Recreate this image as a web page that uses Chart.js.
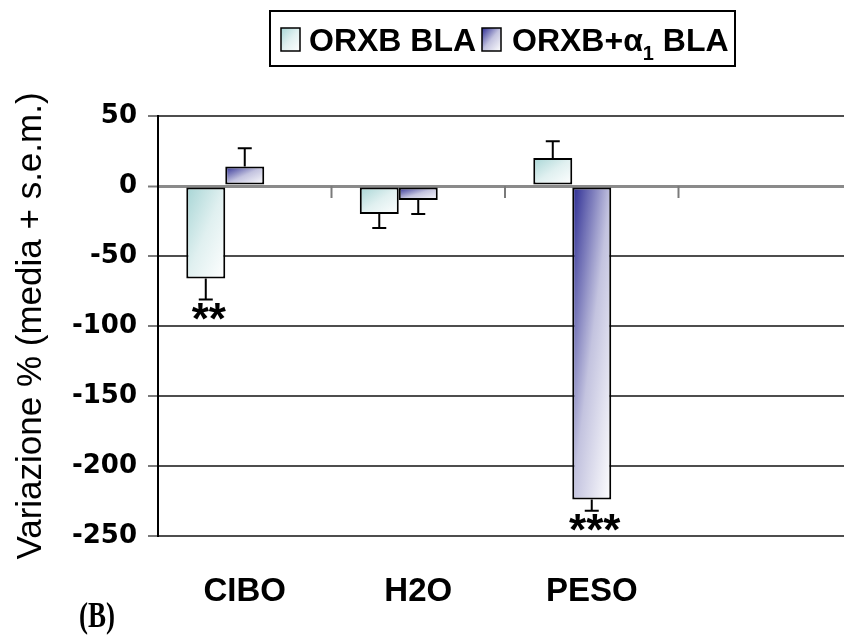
<!DOCTYPE html>
<html lang="it">
<head>
  <meta charset="UTF-8">
  <title>Variazione % - ORXB BLA</title>
  <script src="https://cdn.jsdelivr.net/npm/chart.js"></script>
  <style>
    html, body {
      margin: 0;
      padding: 0;
      background: #fff;
      overflow: hidden;
    }
    canvas {
      display: block;
    }
  </style>
</head>
<body>
  <canvas id="chart" width="860" height="636"></canvas>

  <script>
    // Categories and values (% change, mean and s.e.m.)
    const categories = ['CIBO', 'H2O', 'PESO'];
    const xLabels = [...categories, ''];          // last slot stays empty

    const orxbBla = [-66, -20, 20];
    const orxbBlaSem = [15, 10, 12];
    const orxbBlaSig = ['**', '', ''];

    const orxbAlpha = [14, -10, -224];
    const orxbAlphaSem = [13, 10, 8];
    const orxbAlphaSig = ['', '', '***'];

    const emptySlot = [null, null, null];         // third (unused) bar slot per group

    const yMin = -250;
    const yMax = 50;
    const yStep = 50;

    // gradient colour stops, top-left corner -> bottom-right corner
    const cyanStops = [[0, '#a7d5d5'], [0.5, '#e0f0f0'], [1, '#ffffff']];
    const blueStops = [[0, '#2a2a92'], [0.5, '#c3c3df'], [1, '#ffffff']];

    // diagonal fill like the old spreadsheet "diagonal" gradient
    function diagGradient(ctx, left, top, w, h, stops) {
      const d = 2 * w * h / (w * w + h * h);
      const g = ctx.createLinearGradient(left, top, left + h * d, top + w * d);
      stops.forEach(([o, c]) => g.addColorStop(o, c));
      return g;
    }

    const barGradients = {
      id: 'barGradients',
      beforeDatasetsDraw(chart) {
        const ctx = chart.ctx;
        [cyanStops, blueStops].forEach((stops, di) => {
          chart.getDatasetMeta(di).data.forEach(el => {
            const p = el.getProps(['x', 'y', 'base', 'width'], true);
            const top = Math.min(p.y, p.base);
            const h = Math.max(Math.abs(p.y - p.base), 1);
            const grad = diagGradient(ctx, p.x - p.width / 2, top, p.width, h, stops);
            el.options = Object.assign({}, el.options, { backgroundColor: grad });
          });
        });
      }
    };

    const errorBars = {
      id: 'errorBars',
      afterDatasetsDraw(chart) {
        const ctx = chart.ctx;
        const y = chart.scales.y;
        const sems = [orxbBlaSem, orxbAlphaSem];
        const sigs = [orxbBlaSig, orxbAlphaSig];
        const vals = [orxbBla, orxbAlpha];
        ctx.save();
        ctx.strokeStyle = '#000';
        ctx.lineWidth = 2;
        for (let di = 0; di < 2; di++) {
          chart.getDatasetMeta(di).data.forEach((el, i) => {
            const v = vals[di][i];
            const dir = v < 0 ? -1 : 1;
            const yBar = y.getPixelForValue(v);
            const yEnd = y.getPixelForValue(v + dir * sems[di][i]);
            ctx.beginPath();
            ctx.moveTo(el.x, yBar);
            ctx.lineTo(el.x, yEnd);
            ctx.moveTo(el.x - 7, yEnd);
            ctx.lineTo(el.x + 7, yEnd);
            ctx.stroke();

            const s = sigs[di][i];
            if (s) {
              ctx.font = 'bold 44px "Liberation Sans", Arial, sans-serif';
              ctx.fillStyle = '#000';
              ctx.textAlign = 'center';
              ctx.textBaseline = 'alphabetic';
              const m = ctx.measureText(s);
              const cy = yEnd - dir * 12;
              ctx.fillText(s, el.x + 3, cy + (m.actualBoundingBoxAscent - m.actualBoundingBoxDescent) / 2);
            }
          });
        }
        ctx.restore();
      }
    };

    const chartExtras = {
      id: 'chartExtras',
      afterDraw(chart) {
        const ctx = chart.ctx;
        const x = chart.scales.x;
        const y0 = chart.scales.y.getPixelForValue(0);
        ctx.save();

        // category tick marks hanging below the zero line
        ctx.strokeStyle = '#7a7a7a';
        ctx.lineWidth = 2;
        for (let i = 0; i < xLabels.length - 1; i++) {
          const bx = (x.getPixelForTick(i) + x.getPixelForTick(i + 1)) / 2;
          ctx.beginPath();
          ctx.moveTo(bx, y0);
          ctx.lineTo(bx, y0 + 12);
          ctx.stroke();
        }

        // legend box
        ctx.strokeStyle = '#000';
        ctx.lineWidth = 2;
        ctx.strokeRect(270, 11, 465, 55);

        ctx.lineWidth = 1.5;
        ctx.fillStyle = diagGradient(ctx, 281, 28, 19, 23, cyanStops);
        ctx.fillRect(281, 28, 19, 23);
        ctx.strokeRect(281, 28, 19, 23);
        ctx.fillStyle = diagGradient(ctx, 482, 28, 19, 23, blueStops);
        ctx.fillRect(482, 28, 19, 23);
        ctx.strokeRect(482, 28, 19, 23);

        ctx.fillStyle = '#000';
        ctx.textAlign = 'left';
        ctx.textBaseline = 'alphabetic';
        ctx.font = 'bold 32px "Liberation Sans", Arial, sans-serif';
        ctx.fillText(chart.data.datasets[0].label, 309, 51);

        let tx = 512;
        ctx.fillText('ORXB+α', tx, 51);
        tx += ctx.measureText('ORXB+α').width;
        ctx.font = 'bold 20px "Liberation Sans", Arial, sans-serif';
        ctx.fillText('1', tx, 60);
        tx += ctx.measureText('1').width;
        ctx.font = 'bold 32px "Liberation Sans", Arial, sans-serif';
        ctx.fillText(' BLA', tx, 51);

        // panel letter
        ctx.save();
        ctx.translate(79, 627);
        ctx.scale(0.75, 1);
        ctx.font = 'bold 36px "Liberation Serif", "Times New Roman", serif';
        ctx.fillText('(B)', 0, 0);
        ctx.restore();

        ctx.restore();
      }
    };

    const barStyle = {
      backgroundColor: '#ffffff',
      borderColor: '#000000',
      borderWidth: 2,
      borderSkipped: false
    };

    new Chart(document.getElementById('chart'), {
      type: 'bar',
      data: {
        labels: xLabels,
        datasets: [
          { label: 'ORXB BLA', data: orxbBla, ...barStyle },
          { label: 'ORXB+α1 BLA', data: orxbAlpha, ...barStyle },
          { label: '', data: emptySlot, ...barStyle }
        ]
      },
      options: {
        responsive: false,
        animation: false,
        events: [],
        layout: { padding: { top: 116, right: 8, left: 0, bottom: 0 } },
        datasets: {
          bar: {
            categoryPercentage: 0.674,
            barPercentage: 1
          }
        },
        plugins: {
          colors: { enabled: false },
          legend: { display: false },
          tooltip: { enabled: false }
        },
        scales: {
          x: {
            grid: { display: false, drawTicks: false },
            border: { display: false },
            ticks: {
              color: '#000',
              padding: 36,
              maxRotation: 0,
              autoSkip: false,
              font: { family: 'Liberation Sans', weight: 'bold', size: 33 }
            },
            afterFit(axis) { axis.height = 100; }
          },
          y: {
            min: yMin,
            max: yMax,
            ticks: {
              stepSize: yStep,
              color: '#000',
              padding: 11,
              font: { family: 'DejaVu Sans', weight: 'bold', size: 26 }
            },
            grid: {
              color: c => (c.tick && c.tick.value === 0 ? '#8a8a8a' : '#4d4d4d'),
              lineWidth: c => (c.tick && c.tick.value === 0 ? 3 : 2),
              tickLength: 10,
              tickColor: '#7a7a7a',
              tickWidth: 2
            },
            border: { display: true, color: '#000', width: 2 },
            title: {
              display: true,
              text: 'Variazione % (media + s.e.m.)',
              color: '#000',
              font: { family: 'Liberation Sans', size: 35 },
              padding: { top: 10, bottom: 0 }
            },
            afterFit(axis) { axis.width = 158; }
          }
        }
      },
      plugins: [barGradients, errorBars, chartExtras]
    });
  </script>
</body>
</html>
